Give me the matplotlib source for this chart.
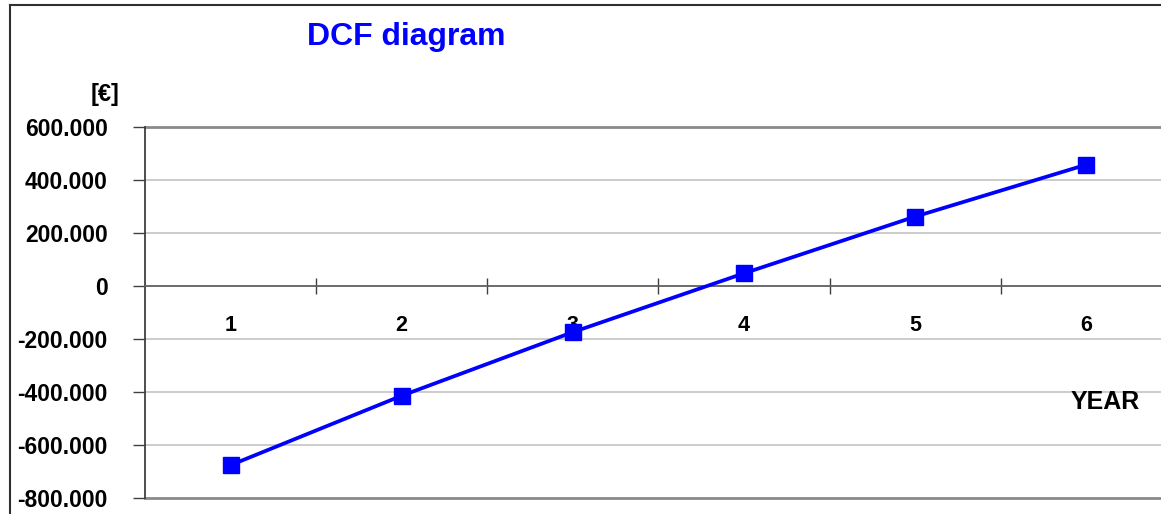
import matplotlib.pyplot as plt
from matplotlib.ticker import FuncFormatter, FixedLocator
from matplotlib.lines import Line2D

# data
years = [1, 2, 3, 4, 5, 6]
dcf = [-676000, -414000, -174000, 48000, 262000, 458000]
y_ticks = [-800000, -600000, -400000, -200000, 0, 200000, 400000, 600000]

plt.rcParams['font.family'] = ['Liberation Sans', 'DejaVu Sans']
plt.rcParams['font.weight'] = 'bold'

fig = plt.figure(figsize=(11.61, 5.14), dpi=100)
ax = fig.add_axes([145 / 1161, 16 / 514, 1027 / 1161, 371 / 514])

ax.set_xlim(0.5, 6.5)
ax.set_ylim(-800000, 600000)

# grid
for v in y_ticks[1:-1]:
    if v != 0:
        ax.axhline(v, color='#c8c8c8', lw=1.3, zorder=0)
ax.axhline(600000, color='#8a8a8a', lw=2, zorder=0, clip_on=False)
ax.axhline(-800000, color='#8a8a8a', lw=2, zorder=0, clip_on=False)

ax.plot(years, dcf, color='#0000ff', lw=2.7, marker='s', markersize=12, zorder=3)

for s in ['top', 'right']:
    ax.spines[s].set_visible(False)
ax.spines['left'].set_color('#404040')
ax.spines['left'].set_linewidth(1.3)
ax.spines['bottom'].set_position(('data', 0))
ax.spines['bottom'].set_color('#606060')
ax.spines['bottom'].set_linewidth(1.3)

ax.set_yticks(y_ticks)
ax.yaxis.set_major_formatter(FuncFormatter(lambda v, p: '0' if v == 0 else f'{int(v):,}'.replace(',', '.')))
ax.tick_params(axis='y', direction='out', length=9, width=1, color='#404040', pad=18, labelsize=16.5)

ax.set_xticks(years)
ax.xaxis.set_minor_locator(FixedLocator([1.5, 2.5, 3.5, 4.5, 5.5]))
ax.tick_params(axis='x', which='major', length=0, pad=21, labelsize=15.5)
ax.tick_params(axis='x', which='minor', direction='inout', length=12, width=1, color='#404040')
for lab in ax.get_xticklabels() + ax.get_yticklabels():
    lab.set_fontweight('bold')

fig.text(406 / 1161, 1 - 37 / 514, 'DCF diagram', color='#0000ff', fontsize=23, fontweight='bold',
         ha='center', va='center')
fig.text(120 / 1161, 1 - 94 / 514, '[€]', fontsize=17, fontweight='bold', ha='right', va='center')
fig.text(1140 / 1161, 1 - 402 / 514, 'YEAR', fontsize=18, fontweight='bold', ha='right', va='center')

# outer frame
fig.add_artist(Line2D([10 / 1161, 10 / 1161], [0, 1 - 5 / 514], color='#303030', lw=1.5))
fig.add_artist(Line2D([10 / 1161, 1], [1 - 5 / 514, 1 - 5 / 514], color='#303030', lw=1.5))

fig.savefig('out.png', dpi=100)
